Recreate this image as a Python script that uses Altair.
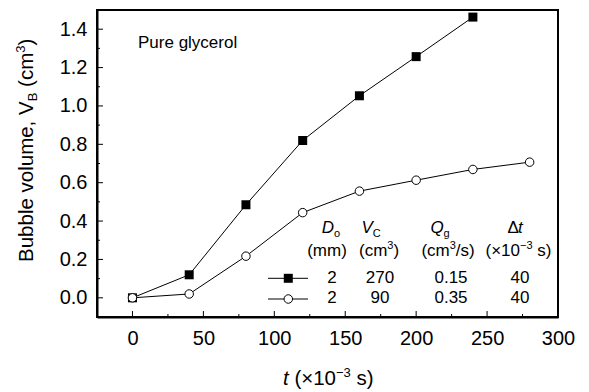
import altair as alt
import pandas as pd

# ---------------- data ----------------
t_sq = [0, 40, 80, 120, 160, 200, 240]
v_sq = [0.0, 0.12, 0.485, 0.82, 1.053, 1.257, 1.463]
t_ci = [0, 40, 80, 120, 160, 200, 240, 280]
v_ci = [0.0, 0.02, 0.217, 0.444, 0.556, 0.613, 0.669, 0.707]

x_major = [0, 50, 100, 150, 200, 250, 300]
x_minor = [25, 75, 125, 175, 225, 275]
y_major = [0.0, 0.2, 0.4, 0.6, 0.8, 1.0, 1.2, 1.4]
y_minor = [0.1, 0.3, 0.5, 0.7, 0.9, 1.1, 1.3]

X_DOM = [-25, 300]
Y_DOM = [-0.1, 1.5]

# legend table values
leg_row1 = ["2", "270", "0.15", "40"]
leg_row2 = ["2", "90", "0.35", "40"]

FONT = "Liberation Sans"
W, H = 461, 307

xscale = alt.Scale(domain=X_DOM, nice=False, zero=False)
yscale = alt.Scale(domain=Y_DOM, nice=False, zero=False)
xaxis = alt.Axis(values=x_major, ticks=False, tickSize=0, domain=True, domainColor="#000000", domainWidth=2,
                 domainOpacity=1, grid=False, title=None, labelFlush=False, labelOverlap=False,
                 labelFont=FONT, labelFontSize=20, labelColor="black", labelPadding=11)
yaxis = alt.Axis(values=y_major, format=".1f", ticks=False, tickSize=0, domain=True, domainColor="#000000",
                 domainWidth=2, domainOpacity=1, grid=False, labelFlush=False, labelOverlap=False,
                 title=None, labelFont=FONT, labelFontSize=20, labelColor="black", labelPadding=10)

df_sq = pd.DataFrame({"t": t_sq, "v": v_sq})
df_ci = pd.DataFrame({"t": t_ci, "v": v_ci})

X = alt.X("t:Q", scale=xscale, axis=xaxis)
Y = alt.Y("v:Q", scale=yscale, axis=yaxis)
PX = dict(scale=None, axis=None)

# plot frame: closed line through the domain corners
fr = pd.DataFrame({
    "t": [X_DOM[0], X_DOM[1], X_DOM[1], X_DOM[0], X_DOM[0]],
    "v": [Y_DOM[0], Y_DOM[0], Y_DOM[1], Y_DOM[1], Y_DOM[0]],
    "o": [0, 1, 2, 3, 4],
})
frame = alt.Chart(fr).mark_line(color="#000000", strokeWidth=2, strokeJoin="miter", opacity=1).encode(
    x=X, y=Y, order="o:Q")

# inward ticks, each a 2-point line (lengths 6 px major, 3 px minor, in data units)
dx = (X_DOM[1] - X_DOM[0]) / W
dy = (Y_DOM[1] - Y_DOM[0]) / H
rows = []
for i, t in enumerate(x_major + x_minor):
    ln = 6 if t in x_major else 3
    rows.append({"g": f"x{i}", "t": t, "v": Y_DOM[0], "o": 0})
    rows.append({"g": f"x{i}", "t": t, "v": Y_DOM[0] + ln * dy, "o": 1})
for i, v in enumerate(y_major + y_minor):
    ln = 6 if v in y_major else 3
    rows.append({"g": f"y{i}", "t": X_DOM[0], "v": v, "o": 0})
    rows.append({"g": f"y{i}", "t": X_DOM[0] + ln * dx, "v": v, "o": 1})
ticks = alt.Chart(pd.DataFrame(rows)).mark_line(color="#000000", strokeWidth=1, opacity=1).encode(
    x=X, y=Y, detail="g:N", order="o:Q")

line_sq = alt.Chart(df_sq).mark_line(color="black", strokeWidth=1).encode(x=X, y=Y)
pts_sq = alt.Chart(df_sq).mark_point(shape="square", filled=True, color="black", size=81, opacity=1).encode(x=X, y=Y)
line_ci = alt.Chart(df_ci).mark_line(color="black", strokeWidth=1).encode(x=X, y=Y)
pts_ci = alt.Chart(df_ci).mark_point(shape="circle", filled=True, fill="white", stroke="black",
                                     strokeWidth=1, size=72, opacity=1).encode(x=X, y=Y)

# ---------------- text pieces (pixel positions in plot frame) ----------------
FS_T, FS_S = 20.5, 13
ytitle = pd.DataFrame({
    "text": ["Bubble volume, V", "B", "(cm", "3", ")"],
    "px": [-64, -60, -64, -72.5, -64],
    "py": [252, 91.3, 76.9, 42.7, 35.5],
    "fs": [FS_T, FS_S, FS_T, FS_S, FS_T],
})
FL, FLS = 17, 11
up = pd.DataFrame({
    "text": ["(\u00d710", "\u22123", "s)",
             "Pure glycerol",
             "o", "C", "g", "\u0394",
             "(mm)",
             "(cm", "3", ")",
             "(cm", "3", "/s)",
             "(\u00d710", "\u22123", "s)"],
    "px": [197.4, 239.0, 259.5,
           41,
           237.1, 275.7, 346.6, 410.5,
           210.2,
           262, 290.3, 296.4,
           324.4, 352.7, 358.8,
           388.5, 423.0, 440.2],
    "py": [375, 367, 375,
           38,
           227, 227, 227, 223,
           246,
           246, 239, 246,
           246, 239, 246,
           246, 239, 246],
    "fs": [FS_T, FS_S, FS_T,
           17,
           FLS, FLS, FLS, FL,
           FL,
           FL, FLS, FL,
           FL, FLS, FL,
           FL, FLS, FL],
})
ital = pd.DataFrame({
    "text": ["t", "D", "V", "Q", "t"],
    "px": [186, 224.8, 264.4, 333.4, 420.9],
    "py": [375, 223, 223, 223, 223],
    "fs": [FS_T, FL, FL, FL, FL],
})
cells = pd.DataFrame({
    "text": leg_row1 + leg_row2,
    "px": [235, 283, 354, 423] * 2,
    "py": [273] * 4 + [293] * 4,
})

def txt_enc(extra=None):
    d = dict(x=alt.X("px:Q", **PX), y=alt.Y("py:Q", **PX), text="text:N")
    if extra:
        d.update(extra)
    return d

SZ = {"size": alt.Size("fs:Q", scale=None, legend=None)}
t_y = alt.Chart(ytitle).mark_text(font=FONT, angle=270, align="left", baseline="alphabetic", color="black").encode(**txt_enc(SZ))
t_up = alt.Chart(up).mark_text(font=FONT, align="left", baseline="alphabetic", color="black").encode(**txt_enc(SZ))
t_it = alt.Chart(ital).mark_text(font=FONT, fontStyle="italic", align="left", baseline="alphabetic", color="black").encode(**txt_enc(SZ))
t_cells = alt.Chart(cells).mark_text(font=FONT, fontSize=17, align="center", baseline="alphabetic", color="black").encode(**txt_enc())

# legend samples
leg_lines = pd.DataFrame({"x1": [171, 171], "x2": [211, 211], "ly": [268.3, 289]})
leg_l = alt.Chart(leg_lines).mark_rule(color="black", strokeWidth=1).encode(
    x=alt.X("x1:Q", **PX), x2="x2:Q", y=alt.Y("ly:Q", **PX))
leg_s = alt.Chart(pd.DataFrame({"mx": [191.3], "my": [268.3]})).mark_point(
    shape="square", filled=True, color="black", size=81, opacity=1).encode(
    x=alt.X("mx:Q", **PX), y=alt.Y("my:Q", **PX))
leg_c = alt.Chart(pd.DataFrame({"mx": [191.3], "my": [289]})).mark_point(
    shape="circle", filled=True, fill="white", stroke="black", strokeWidth=1, size=72, opacity=1).encode(
    x=alt.X("mx:Q", **PX), y=alt.Y("my:Q", **PX))

chart = alt.layer(
    line_sq, pts_sq, line_ci, pts_ci,
    leg_l, leg_s, leg_c,
    t_y, t_up, t_it, t_cells,
    ticks, frame,
).properties(
    width=W, height=H,
    autosize=alt.AutoSizeParams(type="none"),
    padding={"left": 89, "top": 2, "right": 23, "bottom": 76},
    background="white",
).configure_view(stroke="#000000", strokeWidth=2)

chart.save("out.html", embed_options={"renderer": "svg", "actions": False})
